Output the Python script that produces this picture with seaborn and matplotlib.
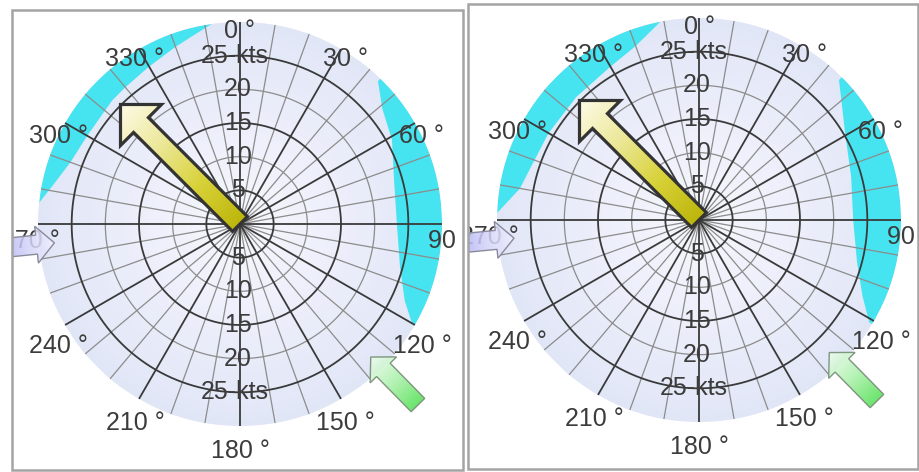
import numpy as np
import matplotlib
matplotlib.use("Agg")
import matplotlib.pyplot as plt
import seaborn as sns
from matplotlib.patches import Polygon, Rectangle
from matplotlib.transforms import Bbox, TransformedBbox

# ---------------------------------------------------------------- data
speed_rings = [5, 10, 15, 20, 25]
speed_labels = ["5", "10", "15", "20", "25-kts"]
bearing_ticks = [0, 30, 60, 90, 120, 150, 180, 210, 240, 270, 300, 330]
bearing_labels = ["0 °", "30 °", "60 °", "90 °", "120 °", "150 °",
                  "180 °", "210 °", "240 °", "270 °", "300 °", "330 °"]
r_max = 30

# boat heading arrow per panel: bearing (deg) and speed (kts)
heading_deg = [315.0, 315.0]
heading_kts = [25.1, 25.1]

# rim markers (bearing in deg, tip and tail radius in kts)
green_deg = [135.5, 135.5]
purple_deg = [264.2, 264.4]
marker_tip_kts = [27.7, 27.6]
marker_tail_kts = [37.7, 37.7]

# cyan zones: inner edge as (bearing, kts) pairs, outer edge is the rim
nw_zone_deg = [[276, 282, 290, 300, 314, 320, 330, 340, 347, 352],
               [272, 280, 290, 300, 315, 330, 340, 349]]
nw_zone_kts = [[30, 28.3, 26.8, 26.2, 26.4, 26.5, 27.0, 28.0, 29.0, 30],
               [30, 27.0, 26.0, 25.8, 25.8, 26.3, 27.5, 30]]
e_zone_deg = [[44, 51, 61, 74, 90, 105, 115, 120],
              [45, 52, 59.5, 74, 90, 105, 115, 121]]
e_zone_kts = [[29.5, 27.2, 25.8, 23.8, 23.3, 24.6, 27.0, 29.5],
              [29.4, 27.0, 25.2, 23.5, 22.9, 24.3, 26.8, 29.5]]

# ---------------------------------------------------------------- layout
W, H = 920, 472
centers = [(240, 224), (699, 220)]          # pixel centre of each dial (from top)
radius_px = 202
frames = [(12, 10, 463, 470), (468, 4, 918, 469)]   # x0, y0, x1, y1 from top

sns.set_theme(style="white")
plt.rcParams["font.family"] = ["Liberation Sans", "DejaVu Sans"]

fig = plt.figure(figsize=(W / 100, H / 100), dpi=100)
fig.patch.set_facecolor("white")

TEXT = "#3c3c3c"
BOLD = "#3a3a3a"
THIN = "#8c8c8c"
CYAN = "#46e4f0"

disk_cmap = sns.blend_palette(["#f6f7fd", "#eceffa", "#e1e6f7"], as_cmap=True)

polar_axes = []
for i, (cx, cy) in enumerate(centers):
    rect = [(cx - radius_px) / W, (H - cy - radius_px) / H,
            2 * radius_px / W, 2 * radius_px / H]
    ax = fig.add_axes(rect, projection="polar")
    ax.set_theta_zero_location("N")
    ax.set_theta_direction(-1)
    ax.set_ylim(0, r_max)
    ax.set_axis_off()

    # shaded disk, lighter toward the middle
    th_e = np.linspace(0, 2 * np.pi, 181)
    r_e = np.linspace(0, r_max, 31)
    TH, RR = np.meshgrid(th_e, r_e)
    C = (r_e[:-1, None] + 0.5) * np.ones((1, len(th_e) - 1))
    ax.pcolormesh(TH, RR, C, cmap=disk_cmap, vmin=0, vmax=r_max,
                  shading="flat", antialiased=False, edgecolors="none", zorder=0)

    # cyan zones bounded by the rim
    for zdeg, zkts in ((nw_zone_deg[i], nw_zone_kts[i]), (e_zone_deg[i], e_zone_kts[i])):
        rim = np.linspace(zdeg[-1], zdeg[0], 60)
        th = np.deg2rad(np.concatenate([zdeg, rim]))
        rr = np.concatenate([zkts, np.full(rim.size, r_max)])
        ax.fill(th, rr, color=CYAN, lw=0, zorder=1)

    # spokes every 10 degrees, heavier every 30
    for b in range(0, 360, 10):
        t = np.deg2rad(b)
        if b % 30 == 0:
            ax.plot([t, t], [0, r_max], color=BOLD, lw=1.3, zorder=3)
        else:
            ax.plot([t, t], [0, r_max], color=THIN, lw=0.9, zorder=2)
    # speed rings
    circ = np.linspace(0, 2 * np.pi, 361)
    for s in speed_rings:
        if s % 10 == 5:
            ax.plot(circ, np.full(circ.size, s), color=BOLD, lw=1.3, zorder=3)
        else:
            ax.plot(circ, np.full(circ.size, s), color=THIN, lw=0.9, zorder=2)
    polar_axes.append(ax)

# overlay in pixel units for arrows, labels and panel frames
ov = fig.add_axes([0, 0, 1, 1])
ov.set_axis_off()
ov.set_autoscale_on(False)
ov.set_xlim(0, W)
ov.set_ylim(0, H)
fig.canvas.draw()


def to_px(ax, deg, kts):
    return ax.transData.transform((np.deg2rad(deg), kts))


def arrow_outline(tail, tip, shaft_w, head_w, head_l):
    d = tip - tail
    u = d / np.hypot(*d)
    n = np.array([-u[1], u[0]])
    neck = tip - u * head_l
    return np.array([tail + n * shaft_w / 2, neck + n * shaft_w / 2,
                     neck + n * head_w / 2, tip, neck - n * head_w / 2,
                     neck - n * shaft_w / 2, tail - n * shaft_w / 2])


def gradient_arrow(tail, tip, shaft_w, head_w, head_l, colors, edge, lw, clip,
                   z=4, alpha=1.0):
    pts = arrow_outline(tail, tip, shaft_w, head_w, head_l)
    poly = Polygon(pts, closed=True, facecolor="none", edgecolor=edge,
                   lw=lw, joinstyle="miter", zorder=z + 1)
    ov.add_patch(poly)
    x0, y0 = pts.min(0) - 3
    x1, y1 = pts.max(0) + 3
    X, Y = np.meshgrid(np.linspace(x0, x1, 240), np.linspace(y0, y1, 240))
    d = tip - tail
    t = np.clip(((X - tail[0]) * d[0] + (Y - tail[1]) * d[1]) / (d @ d), 0, 1)
    cmap = sns.blend_palette(colors, as_cmap=True)
    im = ov.imshow(t, extent=(x0, x1, y0, y1), origin="lower", cmap=cmap,
                   vmin=0, vmax=1, aspect="auto", interpolation="bilinear",
                   zorder=z, alpha=alpha)
    im.set_clip_path(poly)
    im.set_clip_box(clip)
    poly.set_clip_box(clip)


for i, ax in enumerate(polar_axes):
    fx0, fy0, fx1, fy1 = frames[i]
    clip = TransformedBbox(Bbox.from_extents(fx0 + 1.5, H - fy1 + 1.5, fx1 - 1.5, H - fy0 - 1.5),
                           ov.transData)

    # bearing labels around the dial
    for b, lab in zip(bearing_ticks, bearing_labels):
        a = ov.annotate(lab, xy=(np.deg2rad(b), 31.2), xycoords=ax.transData,
                        xytext=(0, -17), textcoords="offset pixels",
                        ha="center", va="center", fontsize=18, color=TEXT,
                        annotation_clip=False, zorder=7)
        a.set_clip_on(True)
        a.set_clip_box(clip)
    # speed labels along the north-south line
    for s, lab in zip(speed_rings, speed_labels):
        dx = -5 if "kts" in lab else -2
        for b in (0, 180):
            ov.annotate(lab, xy=(np.deg2rad(b), s), xycoords=ax.transData,
                        xytext=(dx, 0), textcoords="offset pixels",
                        ha="center", va="center", fontsize=18, color=TEXT,
                        annotation_clip=False, zorder=3)

    # heading arrow
    tail = to_px(ax, heading_deg[i], 0)
    tip = to_px(ax, heading_deg[i], heading_kts[i])
    gradient_arrow(tail, tip, 21, 58, 29,
                   ["#bdb60c", "#d8d23a", "#ece89a", "#fefbe8"],
                   "#333333", 2.3, clip)
    # rim markers, drawn over the labels they sit on
    for deg, cols, edge in ((green_deg[i], ["#4fe04f", "#a8f0a8", "#eefcee"], "#7f957f"),
                            (purple_deg[i], ["#9c9cf0", "#cacaf8", "#f0f0ff"], "#8a8a9c")):
        tail = to_px(ax, deg, marker_tail_kts[i])
        tip = to_px(ax, deg, marker_tip_kts[i])
        gradient_arrow(tail, tip, 19, 37, 18, cols, edge, 1.0, clip, z=8, alpha=0.85)

    # panel frame
    ov.add_patch(Rectangle((fx0, H - fy1), fx1 - fx0, fy1 - fy0, fill=False,
                           edgecolor="#a4a4a4", lw=1.8, zorder=10))

fig.savefig("out.png", dpi=100, facecolor="white")
